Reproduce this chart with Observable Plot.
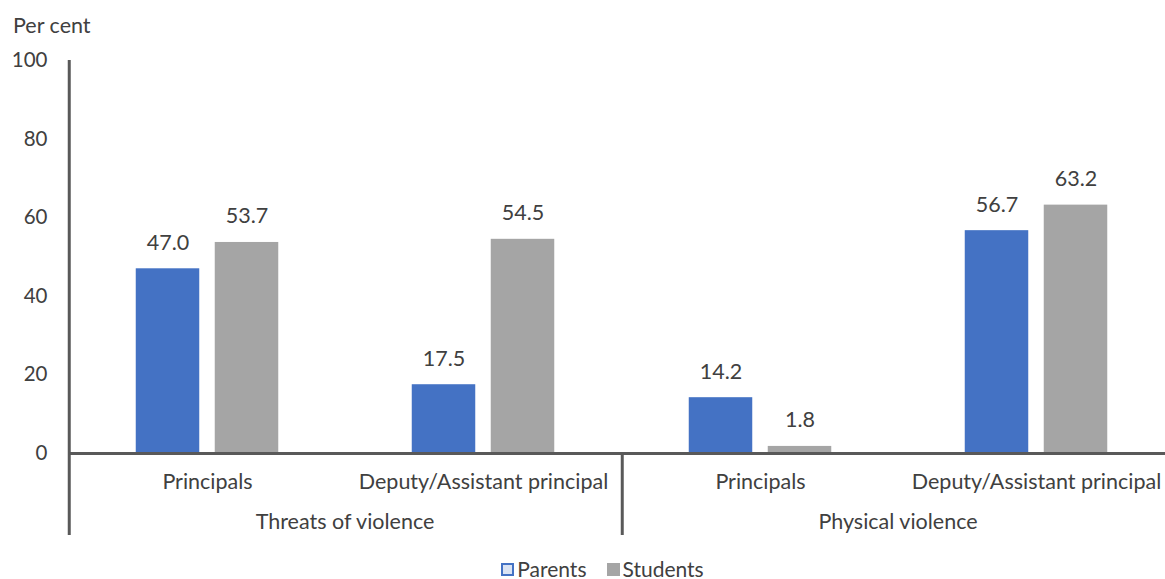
<!DOCTYPE html>
<html>
<head>
<meta charset="utf-8">
<script src="https://cdn.jsdelivr.net/npm/d3@7"></script>
<script src="https://cdn.jsdelivr.net/npm/@observablehq/plot@0.6"></script>
<style>
  html, body { margin: 0; padding: 0; background: #fff; overflow: hidden; }
  body { width: 1165px; height: 579px; font-family: Lato, "Open Sans", sans-serif; color: #404040; }
  #ylabel { height: 40px; font-size: 21.5px; line-height: 22px; padding-left: 13px; box-sizing: border-box; padding-top: 14px; }
  #chart { width: 1165px; height: 495px; overflow: hidden; }
  #chart svg { display: block; max-width: none !important; }
  #legend { display: flex; justify-content: center; align-items: center; gap: 20px; font-size: 21px; line-height: 22px; height: 22px; margin-top: 23px; padding-left: 40px; }
  .sw { display: inline-block; width: 13px; height: 13px; margin-right: 3px; box-sizing: border-box; }
  .item { display: flex; align-items: center; }
</style>
</head>
<body>
<div id="ylabel">Per cent</div>
<div id="chart"></div>
<div id="legend"></div>
<script>
// ---- data ----
const groups = ["Threats of violence", "Physical violence"];
const roles = ["Principals", "Deputy/Assistant principal"];
const series = ["Parents", "Students"];
const parents = [47.0, 17.5, 14.2, 56.7];   // order: group x role
const students = [53.7, 54.5, 1.8, 63.2];
const yTicks = [0, 20, 40, 60, 80, 100];
const colors = {Parents: "#4472C4", Students: "#A5A5A5"};

const rows = [];
groups.forEach((g, gi) => roles.forEach((r, ri) => {
  const k = gi * roles.length + ri;
  rows.push({group: g, role: r, series: "Parents", value: parents[k]});
  rows.push({group: g, role: r, series: "Students", value: students[k]});
}));
const P = rows.filter(d => d.series === "Parents");
const S = rows.filter(d => d.series === "Students");

const W = 1174, ML = 68;
const band = (W - ML) / (groups.length * roles.length);
const half = band / 2;
const barW = 64, off = 39.5;
const axisColor = "#595959", textColor = "#404040";

const chart = Plot.plot({
  width: W,
  height: 495,
  marginLeft: ML,
  marginRight: 0,
  marginTop: 20,
  marginBottom: 82,
  style: {fontFamily: "Lato, 'Open Sans', sans-serif", fontSize: "21.5px", color: textColor, background: "#fff", maxWidth: "none"},
  fx: {domain: groups, padding: 0},
  x: {domain: roles, padding: 0},
  y: {domain: [0, 100]},
  marks: [
    Plot.barY(P, {fx: "group", x: "role", y: "value", fill: colors.Parents,
      insetLeft: half - off - barW / 2, insetRight: half + off - barW / 2}),
    Plot.barY(S, {fx: "group", x: "role", y: "value", fill: colors.Students,
      insetLeft: half + off - barW / 2, insetRight: half - off - barW / 2}),
    Plot.text(P, {fx: "group", x: "role", y: "value", text: d => d.value.toFixed(1), dx: -off, dy: -19, lineAnchor: "bottom", fill: textColor}),
    Plot.text(S, {fx: "group", x: "role", y: "value", text: d => d.value.toFixed(1), dx: off, dy: -19, lineAnchor: "bottom", fill: textColor}),
    Plot.ruleY([0], {stroke: axisColor, strokeWidth: 3}),
    // y-axis line (first facet) and group divider (second facet)
    Plot.ruleX([{group: groups[0], role: roles[0]}], {fx: "group", x: "role", y1: 100, y2: 0, dx: -half, insetBottom: -82, stroke: axisColor, strokeWidth: 3}),
    Plot.ruleX([{group: groups[1], role: roles[0]}], {fx: "group", x: "role", y1: 0, y2: 0, dx: -half, insetBottom: -82, stroke: axisColor, strokeWidth: 3}),
    Plot.axisY({ticks: yTicks, tickSize: 0, tickPadding: 21, label: null, fill: textColor, fontSize: 20.5}),
    Plot.axisX({anchor: "bottom", tickSize: 0, tickPadding: 20, label: null, fill: textColor}),
    Plot.axisFx({anchor: "bottom", tickSize: 0, tickPadding: 60, label: null, fill: textColor})
  ]
});
document.getElementById("chart").appendChild(chart);

const legend = document.getElementById("legend");
series.forEach(s => {
  const item = document.createElement("span");
  item.className = "item";
  const sw = document.createElement("span");
  sw.className = "sw";
  if (s === "Parents") { sw.style.background = "#DAE3F3"; sw.style.border = "2px solid " + colors.Parents; }
  else { sw.style.background = colors.Students; }
  item.appendChild(sw);
  item.appendChild(document.createTextNode(s));
  legend.appendChild(item);
});
</script>
</body>
</html>
